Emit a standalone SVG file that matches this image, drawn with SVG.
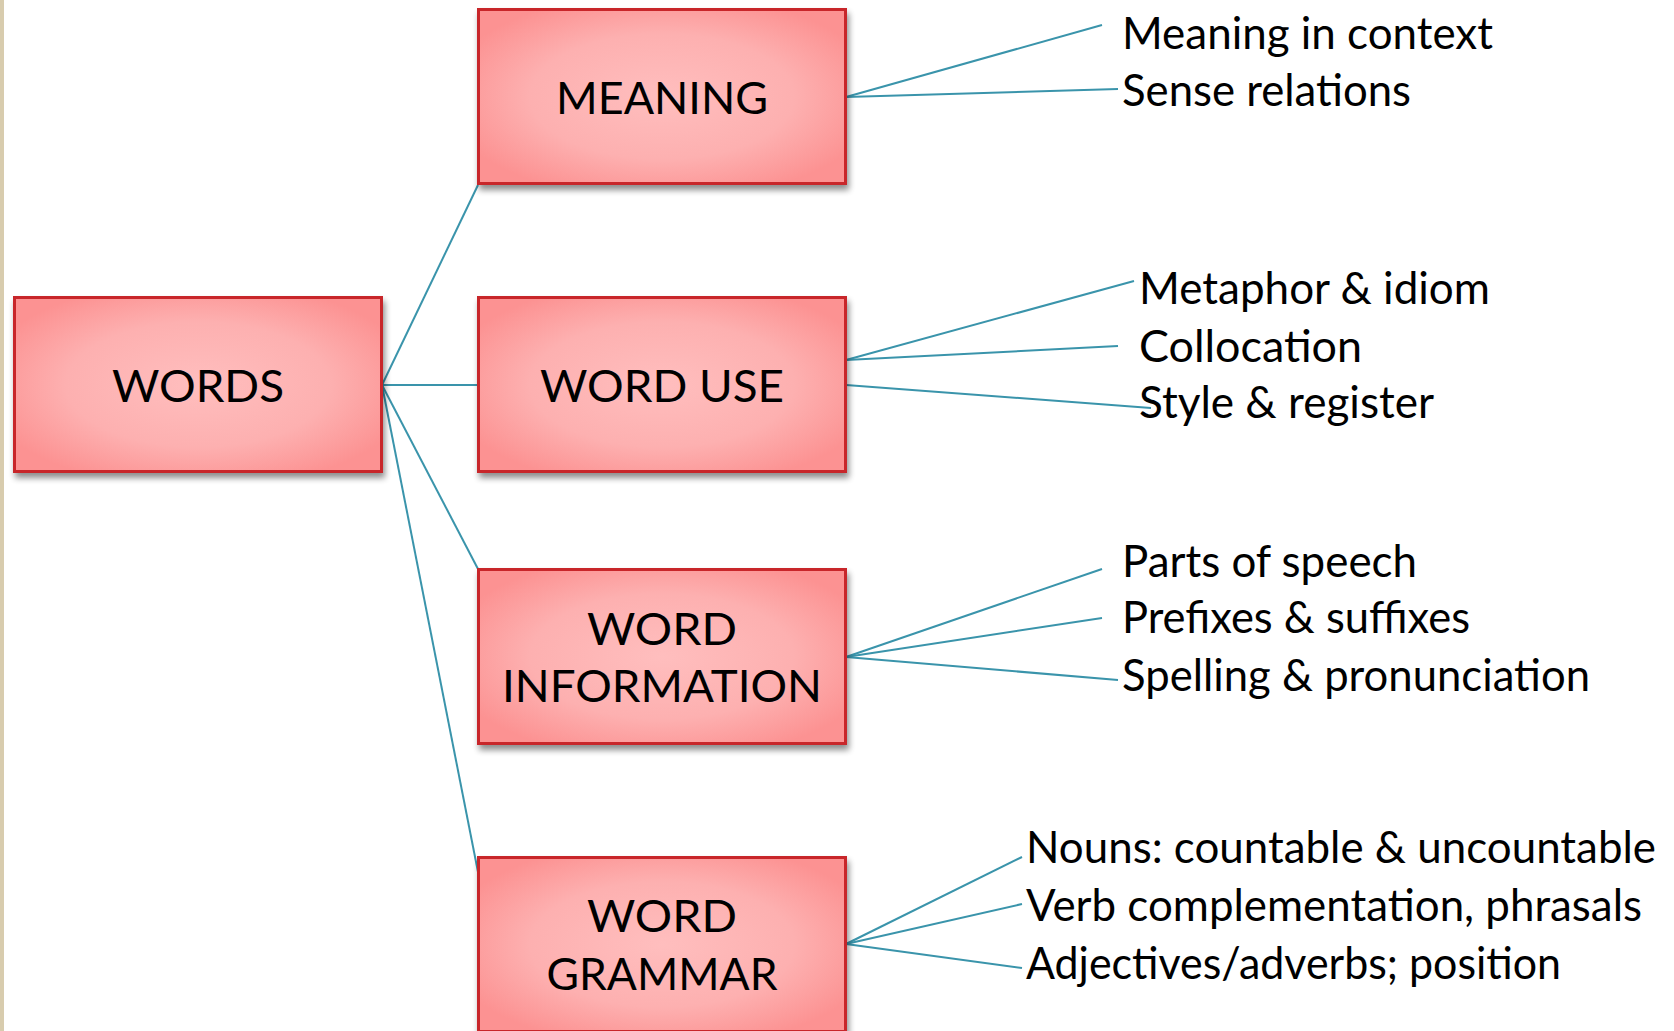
<svg xmlns="http://www.w3.org/2000/svg" width="1674" height="1031" viewBox="0 0 1674 1031">
<defs>
<radialGradient id="pink" cx="50%" cy="50%" r="60%">
<stop offset="0" stop-color="#FFBEBE"/>
<stop offset="0.6" stop-color="#FDB0B0"/>
<stop offset="1" stop-color="#FC9292"/>
</radialGradient>
<filter id="sh" x="-10%" y="-10%" width="125%" height="130%">
<feGaussianBlur in="SourceAlpha" stdDeviation="3"/>
<feOffset dx="2" dy="5" result="b"/>
<feComponentTransfer><feFuncA type="linear" slope="0.45"/></feComponentTransfer>
<feMerge><feMergeNode/><feMergeNode in="SourceGraphic"/></feMerge>
</filter>
</defs>
<style>
.box{fill:url(#pink);stroke:#C8282C;stroke-width:3}
.bt{font-family:Lato,"Open Sans","Liberation Sans",sans-serif;font-size:44px;fill:#000;text-anchor:middle}
.lt{font-family:Lato,"Open Sans","Liberation Sans",sans-serif;font-size:44px;fill:#000}
.c{stroke:#3A94AB;stroke-width:2;fill:none}
</style>
<rect x="0" y="0" width="1674" height="1031" fill="#FFFFFF"/>
<rect x="0" y="0" width="4" height="1031" fill="#D8CCAE"/>

<g id="connectors">
<line class="c" x1="382" y1="385" x2="478" y2="185"/>
<line class="c" x1="382" y1="385" x2="478" y2="385"/>
<line class="c" x1="382" y1="385" x2="478" y2="569"/>
<line class="c" x1="382" y1="385" x2="478" y2="872"/>
<line class="c" x1="846" y1="97" x2="1102" y2="25"/>
<line class="c" x1="846" y1="97" x2="1118" y2="89"/>
<line class="c" x1="846" y1="360" x2="1134" y2="281"/>
<line class="c" x1="846" y1="360" x2="1118" y2="346"/>
<line class="c" x1="846" y1="385" x2="1151" y2="408"/>
<line class="c" x1="846" y1="657" x2="1102" y2="569"/>
<line class="c" x1="846" y1="657" x2="1102" y2="618"/>
<line class="c" x1="846" y1="657" x2="1118" y2="680"/>
<line class="c" x1="846" y1="944" x2="1022" y2="857"/>
<line class="c" x1="846" y1="944" x2="1022" y2="904"/>
<line class="c" x1="846" y1="944" x2="1022" y2="968"/>
</g>

<g id="node-words">
<rect class="box" filter="url(#sh)" x="14.5" y="297.5" width="367" height="174"/>
<text class="bt" x="198" y="402" textLength="172" lengthAdjust="spacingAndGlyphs">WORDS</text>
</g>
<g id="node-meaning">
<rect class="box" filter="url(#sh)" x="478.5" y="9.5" width="367" height="174"/>
<text class="bt" x="662" y="114" textLength="212" lengthAdjust="spacingAndGlyphs">MEANING</text>
</g>
<g id="node-word-use">
<rect class="box" filter="url(#sh)" x="478.5" y="297.5" width="367" height="174"/>
<text class="bt" x="662" y="402" textLength="244" lengthAdjust="spacingAndGlyphs">WORD USE</text>
</g>
<g id="node-word-information">
<rect class="box" filter="url(#sh)" x="478.5" y="569.5" width="367" height="174"/>
<text class="bt" x="662" y="645" textLength="150" lengthAdjust="spacingAndGlyphs">WORD</text>
<text class="bt" x="662" y="702" textLength="320" lengthAdjust="spacingAndGlyphs">INFORMATION</text>
</g>
<g id="node-word-grammar">
<rect class="box" filter="url(#sh)" x="478.5" y="857.5" width="367" height="174"/>
<text class="bt" x="662" y="932" textLength="150" lengthAdjust="spacingAndGlyphs">WORD</text>
<text class="bt" x="662" y="990" textLength="231" lengthAdjust="spacingAndGlyphs">GRAMMAR</text>
</g>

<g id="labels">
<text class="lt" x="1122" y="49" textLength="371" lengthAdjust="spacingAndGlyphs">Meaning in context</text>
<text class="lt" x="1122" y="106" textLength="289" lengthAdjust="spacingAndGlyphs">Sense relations</text>
<text class="lt" x="1139" y="304" textLength="351" lengthAdjust="spacingAndGlyphs">Metaphor &amp; idiom</text>
<text class="lt" x="1139" y="362" textLength="223" lengthAdjust="spacingAndGlyphs">Collocation</text>
<text class="lt" x="1139" y="418" textLength="295" lengthAdjust="spacingAndGlyphs">Style &amp; register</text>
<text class="lt" x="1122" y="577" textLength="295" lengthAdjust="spacingAndGlyphs">Parts of speech</text>
<text class="lt" x="1122" y="633" textLength="348" lengthAdjust="spacingAndGlyphs">Prefixes &amp; suffixes</text>
<text class="lt" x="1122" y="691" textLength="468" lengthAdjust="spacingAndGlyphs">Spelling &amp; pronunciation</text>
<text class="lt" x="1026" y="863" textLength="630" lengthAdjust="spacingAndGlyphs">Nouns: countable &amp; uncountable</text>
<text class="lt" x="1026" y="921" textLength="616" lengthAdjust="spacingAndGlyphs">Verb complementation, phrasals</text>
<text class="lt" x="1026" y="979" textLength="535" lengthAdjust="spacingAndGlyphs">Adjectives/adverbs; position</text>
</g>
</svg>
